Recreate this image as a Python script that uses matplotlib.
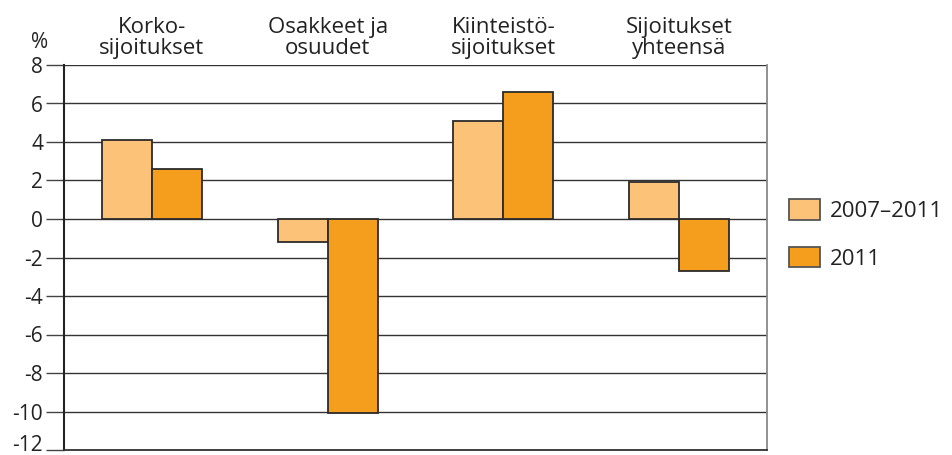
import matplotlib.pyplot as plt
import matplotlib.transforms as mtransforms
import numpy as np

plt.rcParams['font.family'] = ['Open Sans', 'DejaVu Sans']
plt.rcParams['axes.unicode_minus'] = False

categories = ['Korko-\nsijoitukset', 'Osakkeet ja\nosuudet', 'Kiinteistö-\nsijoitukset', 'Sijoitukset\nyhteensä']
series_names = ['2007–2011', '2011']
values_2007_2011 = [4.1, -1.2, 5.1, 1.9]
values_2011 = [2.6, -10.1, 6.6, -2.7]
yticks = [-12, -10, -8, -6, -4, -2, 0, 2, 4, 6, 8]

light = '#FCC277'
dark = '#F59E1E'
edge = '#2b2b2b'
txt = '#222222'

fig = plt.figure(figsize=(9.52, 4.55), dpi=100)
ax = fig.add_axes([64 / 952, 5 / 455, (767 - 64) / 952, (450 - 65) / 455])

x = np.arange(len(categories))
w = 0.285
ax.bar(x - w / 2, values_2007_2011, w, color=light, edgecolor=edge, linewidth=1.3,
       label=series_names[0], zorder=3)
ax.bar(x + w / 2, values_2011, w, color=dark, edgecolor=edge, linewidth=1.3,
       label=series_names[1], zorder=3)

ax.set_xlim(-0.5, len(categories) - 0.5)
ax.set_ylim(-12, 8)
ax.set_yticks(yticks)
ax.set_yticklabels([str(t) for t in yticks], fontsize=15, color=txt)
ax.tick_params(axis='y', length=13, width=1, color='#444444', pad=2)
ax.set_xticks([])
ax.grid(axis='y', color='#333333', linewidth=1, zorder=0)

# nudge the lowest label up so it fits in the figure
lab = ax.get_yticklabels()[0]
lab.set_transform(lab.get_transform() + mtransforms.ScaledTranslation(0, 7 / 100, fig.dpi_scale_trans))

ax.spines['left'].set_color('#222222')
ax.spines['left'].set_linewidth(1.5)
ax.spines['bottom'].set_color('#333333')
ax.spines['bottom'].set_linewidth(1.3)
ax.spines['top'].set_visible(False)
ax.spines['right'].set_color('#888888')
ax.spines['right'].set_linewidth(1.3)

for i, c in enumerate(categories):
    ax.text(i, 9.38, c, ha='center', va='center', fontsize=16, color=txt,
            linespacing=1.0)
fig.text(31 / 952, 1 - 43 / 455, '%', ha='left', va='center', fontsize=15, color=txt)

leg = ax.legend(loc='upper left', bbox_to_anchor=(789 / 952, 1 - 199 / 455),
                bbox_transform=fig.transFigure, frameon=False, borderaxespad=0,
                borderpad=0, fontsize=16, handlelength=1.4, handleheight=1.05,
                labelspacing=1.12, handletextpad=0.45)
for t in leg.get_texts():
    t.set_color(txt)
for p in leg.get_patches():
    p.set_edgecolor('#555555')

fig.savefig('out.png', dpi=100)
